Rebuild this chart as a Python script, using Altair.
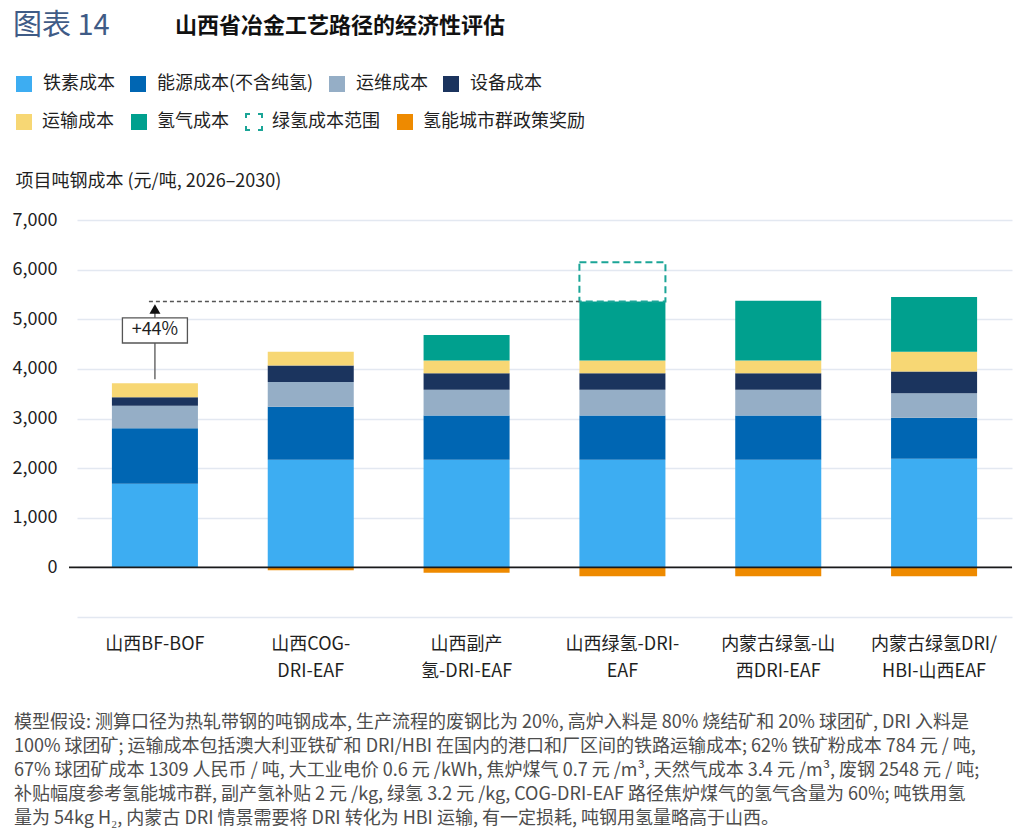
import altair as alt
import pandas as pd

# ---------------- data ----------------
ROUTES = [
    "山西BF-BOF",
    "山西COG-\nDRI-EAF",
    "山西副产\n氢-DRI-EAF",
    "山西绿氢-DRI-\nEAF",
    "内蒙古绿氢-山\n西DRI-EAF",
    "内蒙古绿氢DRI/\nHBI-山西EAF",
]
BASE_COMPONENTS = ["铁素成本", "能源成本(不含纯氢)", "运维成本", "设备成本"]
EXTRA_COMPONENTS = ["运输成本", "氢气成本", "绿氢成本范围", "氢能城市群政策奖励"]
BASE_COLORS = ["#3DADF2", "#0066B3", "#95AEC6", "#1B345E"]
EXTRA_COLORS = ["#F7D774", "#00A08E", "transparent", "#EE8A00"]
RANGE_COLOR = "#1BA597"

IRON = [1685, 2170, 2170, 2170, 2170, 2190]
ENERGY = [1120, 1065, 890, 890, 890, 824]
OM = [450, 503, 517, 517, 517, 497]
EQUIP = [175, 329, 337, 337, 337, 435]
TRANSPORT = [280, 276, 254, 254, 254, 397]
HYDROGEN = [0, 0, 517, 1190, 1205, 1107]
SUBSIDY = [0, -60, -110, -180, -180, -180]
GREEN_H2_RANGE_HIGH = 6150
UPLIFT_LABEL = "+44%"
Y_TICKS = [-1000, 0, 1000, 2000, 3000, 4000, 5000, 6000, 7000]

FIGURE_NO = "图表 14"
FIGURE_TITLE = "山西省冶金工艺路径的经济性评估"
Y_TITLE = "项目吨钢成本 (元/吨, 2026–2030)"
NOTE_LINES = [
    "模型假设: 测算口径为热轧带钢的吨钢成本, 生产流程的废钢比为 20%, 高炉入料是 80% 烧结矿和 20% 球团矿, DRI 入料是",
    "100% 球团矿; 运输成本包括澳大利亚铁矿和 DRI/HBI 在国内的港口和厂区间的铁路运输成本; 62% 铁矿粉成本 784 元 / 吨,",
    "67% 球团矿成本 1309 人民币 / 吨, 大工业电价 0.6 元 /kWh, 焦炉煤气 0.7 元 /m³, 天然气成本 3.4 元 /m³, 废钢 2548 元 / 吨;",
    "补贴幅度参考氢能城市群, 副产氢补贴 2 元 /kg, 绿氢 3.2 元 /kg, COG-DRI-EAF 路径焦炉煤气的氢气含量为 60%; 吨铁用氢",
    "量为 54kg H₂, 内蒙古 DRI 情景需要将 DRI 转化为 HBI 运输, 有一定损耗, 吨钢用氢量略高于山西。",
]

# ---------------- tables ----------------
positive = [
    ("铁素成本", IRON),
    ("能源成本(不含纯氢)", ENERGY),
    ("运维成本", OM),
    ("设备成本", EQUIP),
    ("运输成本", TRANSPORT),
    ("氢气成本", HYDROGEN),
]
rows, totals = [], []
for i, route in enumerate(ROUTES):
    top = 0
    for comp, vals in positive:
        v = vals[i]
        if v:
            rows.append({"route": route, "component": comp, "y0": top, "y1": top + v})
            top += v
    totals.append(top)
    if SUBSIDY[i]:
        rows.append({"route": route, "component": "氢能城市群政策奖励", "y0": SUBSIDY[i], "y1": 0})
bars = pd.DataFrame(rows)
base_df = bars[bars["component"].isin(BASE_COMPONENTS)]
extra_df = bars[~bars["component"].isin(BASE_COMPONENTS)]

box_df = pd.DataFrame({"route": [ROUTES[3]], "low": [totals[3]], "high": [GREEN_H2_RANGE_HIGH]})
ann_df = pd.DataFrame({
    "route": [ROUTES[0]], "route_end": [ROUTES[3]],
    "base": [totals[0]], "ref": [totals[3]], "label": [UPLIFT_LABEL],
})
zero_df = pd.DataFrame({"v": [0]})
one = pd.DataFrame({"k": [0]})

FONT = "Noto Sans CJK SC"
INK = "#1F1F1F"

# ---------------- scales / axes ----------------
X_SC = alt.Scale(domain=ROUTES, range=[8, 943], paddingInner=0.448, paddingOuter=0.224)
X_AX = alt.Axis(title=None, labelExpr="split(datum.label, '\\n')", labelAngle=0,
                labelFontSize=18, labelLineHeight=27, labelColor=INK, labelPadding=18,
                ticks=False, tickSize=0, domain=False, grid=False, labelLimit=300)
Y_SC = alt.Scale(domain=[-1000, 7000], nice=False)
Y_AX = alt.Axis(title=Y_TITLE, values=Y_TICKS,
                labelExpr="datum.value < 0 ? '' : format(datum.value, ',')",
                grid=True, gridColor="#E3E8F1", gridWidth=1.5, domain=False,
                ticks=False, tickSize=0, labelPadding=12, labelFontSize=18, labelColor=INK,
                titleAngle=0, titleAlign="left", titleBaseline="middle",
                titleX=-54, titleY=-39, titleFontSize=18, titleFontWeight="normal",
                titleColor=INK)

LEG_A = alt.Legend(title=None, orient="none", legendX=-54, legendY=-145,
                   direction="horizontal", symbolType="square", symbolSize=256,
                   symbolStrokeWidth=0, labelFontSize=18, labelColor=INK,
                   labelOffset=10, columnPadding=14, labelLimit=400)
LEG_B = alt.Legend(title=None, orient="none", legendX=-54, legendY=-107,
                   direction="horizontal", symbolType="square", symbolSize=256,
                   symbolStrokeWidth=2,
                   symbolStrokeColor={"expr": "datum.value === '绿氢成本范围' ? '%s' : 'transparent'" % RANGE_COLOR},
                   symbolDash=[8, 8], symbolDashOffset=4,
                   labelFontSize=18, labelColor=INK,
                   labelOffset=9, columnPadding=13, labelLimit=400)

def xenc(**kw):
    return alt.X("route:N", scale=X_SC, axis=X_AX, **kw)

def yenc(field):
    return alt.Y(field, scale=Y_SC, axis=Y_AX)

layer_a = alt.Chart(base_df).mark_bar().encode(
    x=xenc(), y=yenc("y0:Q"), y2="y1:Q",
    color=alt.Color("component:N", scale=alt.Scale(domain=BASE_COMPONENTS, range=BASE_COLORS), legend=LEG_A),
)
layer_b = alt.Chart(extra_df).mark_bar().encode(
    x=xenc(), y=yenc("y0:Q"), y2="y1:Q",
    fill=alt.Fill("component:N", scale=alt.Scale(domain=EXTRA_COMPONENTS, range=EXTRA_COLORS), legend=LEG_B),
)
box = alt.Chart(box_df).mark_bar(fill="transparent", stroke=RANGE_COLOR, strokeWidth=2,
                                 strokeDash=[7, 4]).encode(
    x=xenc(), y=yenc("low:Q"), y2="high:Q")
zero = alt.Chart(zero_df).mark_rule(color="#1A1A1A", strokeWidth=1.6).encode(y=yenc("v:Q"))
ref_line = alt.Chart(ann_df).mark_rule(color="#555555", strokeWidth=1.5, strokeDash=[4, 3],
                                       xOffset=-6).encode(
    x=xenc(bandPosition=0.5), x2=alt.X2("route_end:N", bandPosition=0), y=yenc("ref:Q"))
arrow = alt.Chart(ann_df).mark_rule(color="#6B6B6B", strokeWidth=1.5, yOffset=-4, y2Offset=10).encode(
    x=xenc(bandPosition=0.5), y=yenc("base:Q"), y2="ref:Q")
head = alt.Chart(ann_df).mark_point(shape="triangle-up", size=121, filled=True, color="#111111",
                                    opacity=1, yOffset=7.5).encode(
    x=xenc(bandPosition=0.5), y=yenc("ref:Q"))
label_box = alt.Chart(ann_df).mark_point(shape="M-1,-0.385H1V0.385H-1Z", size=4225, filled=True,
                                         fill="white", stroke="#555555", strokeWidth=1.3,
                                         opacity=1, yOffset=29).encode(
    x=xenc(bandPosition=0.5), y=yenc("ref:Q"))
label_txt = alt.Chart(ann_df).mark_text(fontSize=18, color=INK, dy=29, baseline="middle",
                                        align="center", font=FONT).encode(
    x=xenc(bandPosition=0.5), y=yenc("ref:Q"), text="label:N")

head1 = alt.Chart(one).mark_text(align="left", baseline="middle", fontSize=29, color="#3F5B86",
                                 font=FONT).encode(
    text=alt.value(FIGURE_NO), x=alt.value(-56), y=alt.value(-194))
head2 = alt.Chart(one).mark_text(align="left", baseline="middle", fontSize=22, fontWeight="bold",
                                 color="#111111", font=FONT).encode(
    text=alt.value(FIGURE_TITLE), x=alt.value(106), y=alt.value(-194))
note = alt.Chart(one).mark_text(align="left", baseline="top", fontSize=18, lineHeight=24,
                                color="#4D4D4D", font=FONT).encode(
    text=alt.value(NOTE_LINES), x=alt.value(-55), y=alt.value(493.6))

chart = alt.layer(
    layer_a, layer_b, box, zero, ref_line, arrow, label_box, label_txt, head,
    head1, head2, note,
).properties(
    width=943, height=397,
    autosize=alt.AutoSizeParams(type="none"),
    padding={"left": 61, "top": 212, "right": 4, "bottom": 213},
).configure(font=FONT).configure_view(strokeWidth=0)

chart.save("out.html", embed_options={"renderer": "svg", "actions": False})
